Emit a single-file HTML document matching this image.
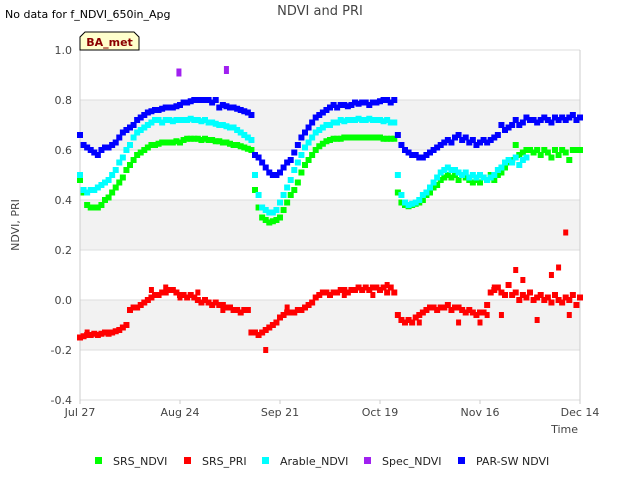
<!DOCTYPE html>
<html><head><meta charset="utf-8"><style>
body{margin:0;background:#fff;font-family:"Liberation Sans","DejaVu Sans",sans-serif}
svg text{font-family:"DejaVu Sans","Liberation Sans",sans-serif}
</style></head><body>
<svg id="chart" width="640" height="480" xmlns="http://www.w3.org/2000/svg">
<text x="5" y="18" font-size="11" fill="#000">No data for f_NDVI_650in_Apg</text>
<text x="320" y="15" font-size="13" fill="#444" text-anchor="middle">NDVI and PRI</text>
<g id="bands"></g>
<g id="yaxis"></g>
<g id="xaxis"></g>
<g id="marks"></g>
<text x="19" y="225" font-size="11" fill="#444" text-anchor="middle" transform="rotate(-90 19 225)">NDVI, PRI</text>
<text x="578" y="433" font-size="11" fill="#444" text-anchor="end">Time</text>
<g>
<path d="M80,50 L80,37 L85,32 L134,32 L139,37 L139,50 Z" fill="#ffffcc" stroke="#000" stroke-width="1"/>
<text x="109.5" y="46" font-size="11" font-weight="bold" fill="#8b0000" text-anchor="middle">BA_met</text>
</g>
<g id="legend"></g>
</svg>
<script>
const xTickLabels=["Jul 27","Aug 24","Sep 21","Oct 19","Nov 16","Dec 14"];
const xTickDays=[0,28,56,84,112,140];
const yTicks=[-0.4,-0.2,0.0,0.2,0.4,0.6,0.8,1.0];
const yTickLabels=["-0.4","-0.2","0.0","0.2","0.4","0.6","0.8","1.0"];
const srsNdvi=[.48,.43,.38,.37,.37,.37,.38,.40,.41,.43,
.45,.47,.49,.52,.54,.56,.58,.59,.60,.61,
.62,.62,.625,.63,.63,.63,.63,.635,.63,.64,
.645,.645,.645,.645,.64,.645,.64,.64,.635,.635,
.63,.63,.625,.62,.62,.615,.61,.605,.60,.44,
.37,.33,.32,.31,.315,.32,.33,.36,.39,.42,
.44,.47,.51,.54,.56,.58,.60,.615,.625,.635,
.64,.645,.645,.645,.65,.65,.65,.65,.65,.65,
.65,.65,.65,.65,.65,.645,.645,.645,.645,.43,
.39,.38,.375,.38,.385,.39,.40,.42,.43,.45,
.46,.48,.49,.50,.49,.50,.48,.50,.49,.48,
.47,.48,.47,.49,.48,.50,.48,.50,.51,.53,
.55,.56,.62,.58,.59,.60,.60,.59,.60,.58,
.60,.59,.57,.60,.58,.60,.59,.56,.60,.60,.60];
const arableNdvi=[.50,.44,.43,.44,.44,.45,.46,.47,.48,.50,
.52,.55,.57,.60,.62,.65,.67,.68,.69,.70,
.71,.72,.72,.71,.72,.72,.715,.72,.72,.72,
.72,.725,.72,.72,.715,.72,.71,.71,.705,.70,
.70,.695,.69,.69,.68,.67,.66,.65,.64,.50,
.42,.37,.36,.35,.35,.36,.39,.42,.45,.48,
.52,.55,.58,.61,.63,.65,.67,.68,.69,.70,
.70,.71,.71,.72,.715,.72,.72,.72,.725,.72,
.72,.725,.72,.72,.72,.715,.72,.71,.71,.50,
.42,.39,.38,.385,.39,.40,.42,.43,.45,.47,
.49,.51,.52,.53,.52,.52,.51,.50,.51,.49,
.50,.49,.50,.49,.48,.49,.50,.52,.53,.55,
.56,.55,.57,.54,.56,.57];
const parSwNdvi=[.66,.62,.61,.60,.59,.58,.60,.61,.61,.62,
.63,.65,.67,.68,.69,.70,.72,.73,.74,.75,
.755,.76,.76,.765,.77,.77,.77,.775,.78,.79,
.79,.795,.80,.80,.80,.80,.80,.79,.80,.77,
.78,.775,.77,.77,.765,.76,.755,.75,.74,.58,
.57,.55,.53,.51,.50,.50,.51,.53,.55,.56,
.59,.62,.65,.67,.69,.71,.73,.74,.75,.76,
.77,.78,.77,.78,.78,.775,.78,.79,.785,.79,
.79,.78,.79,.79,.795,.80,.80,.79,.80,.66,
.62,.60,.59,.58,.58,.57,.57,.58,.59,.60,
.61,.62,.63,.64,.63,.65,.66,.64,.65,.63,
.64,.62,.63,.64,.63,.64,.65,.66,.70,.68,
.69,.70,.72,.70,.71,.73,.72,.72,.71,.72,
.73,.72,.71,.73,.72,.73,.72,.73,.74,.72,.73];
const srsPri=[-.15,-.145,-.14,-.14,-.135,-.14,-.135,-.13,-.135,-.13,
-.125,-.12,-.11,-.10,-.04,-.03,-.03,-.02,-.01,0,
.01,.02,.02,.03,.03,.04,.04,.03,.02,.02,
.01,.02,.01,0,-.01,0,-.01,-.02,-.01,-.02,
-.02,-.03,-.03,-.04,-.04,-.05,-.04,-.04,-.13,-.13,
-.14,-.13,-.12,-.11,-.10,-.09,-.07,-.06,-.05,-.05,
-.05,-.04,-.04,-.03,-.02,-.01,.01,.02,.03,.03,
.02,.03,.03,.04,.04,.03,.04,.04,.05,.04,
.05,.04,.05,.05,.04,.05,.03,.05,.03,-.06,
-.08,-.09,-.08,-.09,-.07,-.06,-.05,-.04,-.03,-.03,
-.04,-.03,-.03,-.02,-.04,-.03,-.03,-.04,-.05,-.04,
-.05,-.06,-.05,-.05,-.02,.03,.04,.05,.03,.02,
.06,.02,.03,0,.02,.01,.03,0,.01,.02,
0,.01,-.01,.02,0,-.01,.01,0,.02,-.02,.01];
const priExtraDays=[2,8,20,24,28,33,40,52,58,74,82,86,95,106,112,114,116,118,122,124,128,132,134,136,137,139];
const priExtraVals=[-.13,-.13,.04,.05,.01,.03,-.04,-.20,-.03,.02,.02,.06,-.09,-.09,-.09,-.06,.05,-.06,.12,.08,-.08,.10,.13,.27,-.06,-.02];
const specDays=[27.7,41];
const specNdvi=[.91,.92];

const X0=80,X1=580,Y0=50,Y1=400,DMAX=140,VMIN=-0.4,VMAX=1.0;
const NS="http://www.w3.org/2000/svg";
function xs(d){return X0+(d/DMAX)*(X1-X0);}
function ys(v){return Y1-(v-VMIN)/(VMAX-VMIN)*(Y1-Y0);}
function mk(tag,attrs,parent){const e=document.createElementNS(NS,tag);for(const k in attrs)e.setAttribute(k,attrs[k]);parent.appendChild(e);return e;}

const bands=document.getElementById('bands');
const bg=mk('rect',{x:X0,y:Y0,width:X1-X0,height:Y1-Y0,fill:'#fff'},bands);


[[0.6,0.8],[0.2,0.4],[-0.2,0.0]].forEach(b=>{
  const r=mk('rect',{x:X0,y:ys(b[1]),width:X1-X0,height:ys(b[0])-ys(b[1]),fill:'#f2f2f2'},bands);
  
  
});
const ya=document.getElementById('yaxis');
yTicks.forEach((v,i)=>{
  const l=mk('line',{x1:X0,x2:X1,y1:ys(v),y2:ys(v),stroke:'#ddd','stroke-width':1},ya);
  
  
  const t=mk('text',{x:72,y:ys(v)+4,'font-size':11,fill:'#444','text-anchor':'end'},ya);
  t.textContent=yTickLabels[i];
  
  
});
mk('line',{x1:X0,x2:X0,y1:Y0,y2:Y1,stroke:'#ccc'},ya);
mk('line',{x1:X1,x2:X1,y1:Y0,y2:Y1,stroke:'#ccc'},ya);
const xa=document.getElementById('xaxis');
xTickDays.forEach((d,i)=>{
  mk('line',{x1:xs(d),x2:xs(d),y1:Y1,y2:Y1+4,stroke:'#ccc'},xa);
  const t=mk('text',{x:xs(d),y:416,'font-size':11,fill:'#444','text-anchor':'middle'},xa);
  t.textContent=xTickLabels[i];
  
  
});
const marks=document.getElementById('marks');
function series(vals,color,name,w,h){
  const g=mk('g',{fill:color},marks);
  
  
  vals.forEach((v,d)=>{if(v==null)return;
    const r=mk('rect',{x:xs(d)-w/2,y:ys(v)-h/2,width:w,height:h},g);
    
    
  });
  return g;
}
function seriesXY(days,vals,color,name,w,h){
  const g=mk('g',{fill:color},marks);
  
  
  days.forEach((d,i)=>{
    const r=mk('rect',{x:xs(d)-w/2,y:ys(vals[i])-h/2,width:w,height:h},g);
    
    
  });
}
series(srsNdvi,'#00ff00','srs-ndvi-series',6,6);
series(srsPri,'#ff0000','srs-pri-series',6,6);
seriesXY(priExtraDays,priExtraVals,'#ff0000','srs-pri-extra-series',5,6);
series(arableNdvi,'#00ffff','arable-ndvi-series',6,6);
seriesXY(specDays,specNdvi,'#a020f0','spec-ndvi-series',5,8);
series(parSwNdvi,'#0000ff','par-sw-ndvi-series',6,6);

const legendNames=["SRS_NDVI","SRS_PRI","Arable_NDVI","Spec_NDVI","PAR-SW NDVI"];
const legendColors=['#00ff00','#ff0000','#00ffff','#a020f0','#0000ff'];
const legendX=[99,188,266,368,462];
const lg=document.getElementById('legend');
legendNames.forEach((n,i)=>{
  const g=mk('g',{},lg);
  
  
  mk('rect',{x:legendX[i]-4,y:457,width:7,height:7,fill:legendColors[i]},g);
  const t=mk('text',{x:legendX[i]+14,y:465,'font-size':11,fill:'#222'},g);
  t.textContent=n;
});
</script>
</body></html>
